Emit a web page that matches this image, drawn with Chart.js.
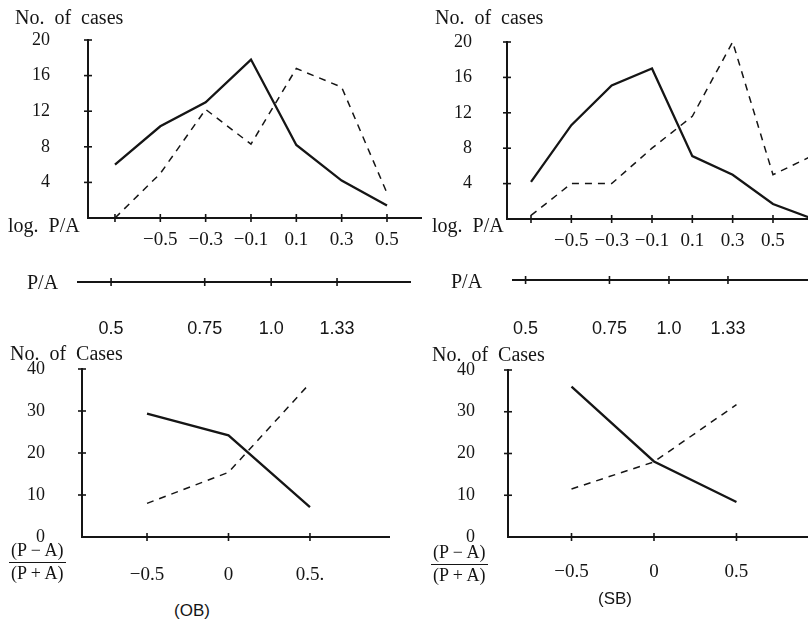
<!DOCTYPE html>
<html>
<head>
<meta charset="utf-8">
<script src="https://cdn.jsdelivr.net/npm/chart.js@4.4.1/dist/chart.umd.min.js"></script>
<style>
  html, body { margin: 0; padding: 0; width: 808px; height: 626px; overflow: hidden; background: #fff; }
  canvas { position: absolute; }
  .t { position: absolute; font-family: 'Liberation Serif', 'Times New Roman', serif; font-size: 20px;
       line-height: 20px; color: #151515; white-space: nowrap; }
  .cap { word-spacing: 5px; }
  .frac { position: absolute; font-family: 'Liberation Serif', serif; font-size: 18px; color: #151515;
          text-align: center; line-height: 17px; }
  .frac .num { border-bottom: 1.6px solid #151515; padding: 0 2px 3px 2px; }
  .frac .den { padding-top: 2px; }
  .grp { position: absolute; font-family: 'Liberation Sans', Arial, sans-serif; font-size: 17px;
         color: #151515; line-height: 20px; }
</style>
</head>
<body>
<canvas id="obLog" width="430" height="230" style="left:0;top:25px"></canvas>
<canvas id="sbLog" width="410" height="230" style="left:420px;top:27px"></canvas>
<canvas id="obPA" width="420" height="80" style="left:0;top:262px"></canvas>
<canvas id="sbPA" width="415" height="80" style="left:420px;top:260px"></canvas>
<canvas id="obRatio" width="400" height="240" style="left:0;top:352px"></canvas>
<canvas id="sbRatio" width="415" height="240" style="left:420px;top:353px"></canvas>

<div class="t cap" style="left:15px;top:7px">No. of cases</div>
<div class="t cap" style="left:435px;top:7px">No. of cases</div>
<div class="t cap" style="left:8px;top:215px">log. P/A</div>
<div class="t cap" style="left:432px;top:215px">log. P/A</div>
<div class="t" style="left:27px;top:272px">P/A</div>
<div class="t" style="left:451px;top:271px">P/A</div>
<div class="t cap" style="left:10px;top:343px">No. of Cases</div>
<div class="t cap" style="left:432px;top:344px">No. of Cases</div>
<div class="frac" style="left:9px;top:542px"><div class="num">(P − A)</div><div class="den">(P + A)</div></div>
<div class="frac" style="left:431px;top:544px"><div class="num">(P − A)</div><div class="den">(P + A)</div></div>
<div class="grp" style="left:174px;top:601px">(OB)</div>
<div class="grp" style="left:598px;top:589px">(SB)</div>

<script>
// log P/A panels (number of cases)
const logPA = [-0.7, -0.5, -0.3, -0.1, 0.1, 0.3, 0.5];
const obSolid = [6, 10.3, 13, 17.8, 8.2, 4.2, 1.4];
const obDashed = [0, 5, 12.2, 8.3, 16.8, 14.7, 2.8];
const logPAsb = [-0.7, -0.5, -0.3, -0.1, 0.1, 0.3, 0.5, 0.7];
const sbSolid = [4.2, 10.6, 15.1, 17, 7.1, 5, 1.7, 0];
const sbDashed = [0.4, 4, 4, 8, 11.6, 20, 5, 7.2];
const logTicksOB = [-0.7, -0.5, -0.3, -0.1, 0.1, 0.3, 0.5];
const logLabelsOB = ['', '−0.5', '−0.3', '−0.1', '0.1', '0.3', '0.5'];
const logTicksSB = [-0.7, -0.5, -0.3, -0.1, 0.1, 0.3, 0.5, 0.7];
const logLabelsSB = ['', '−0.5', '−0.3', '−0.1', '0.1', '0.3', '0.5', ''];

// P/A reference axis
const paTicks = [0.5, 0.75, 1, 1.33];
const paLabels = ['0.5', '0.75', '1.0', '1.33'];

// (P-A)/(P+A) panels
const ratio = [-0.5, 0, 0.5];
const obSolidR = [29.4, 24.2, 7.1];
const obDashedR = [8, 15.4, 36.6];
const sbSolidR = [36, 18.1, 8.4];
const sbDashedR = [11.5, 18, 31.7];
const ratioTicks = [-0.5, 0, 0.5];
const ratioLabelsOB = ['−0.5', '0', '0.5.'];
const ratioLabelsSB = ['−0.5', '0', '0.5'];

const ink = '#151515';
const serif = "'Liberation Serif', 'Times New Roman', serif";
const sans = "'Liberation Sans', Arial, sans-serif";

// small tick marks that cross the axis line
const crossTicks = {
  id: 'crossTicks',
  afterDraw(chart, args, opts) {
    const ctx = chart.ctx;
    const len = 4;
    ctx.save();
    ctx.strokeStyle = ink;
    ctx.lineWidth = 1.6;
    (opts.axes || []).forEach((id) => {
      const s = chart.scales[id];
      s.ticks.forEach((t) => {
        if (!s.isHorizontal() && t.value === 0) return;
        const p = s.getPixelForValue(t.value);
        ctx.beginPath();
        if (s.isHorizontal()) {
          ctx.moveTo(p, s.top - len);
          ctx.lineTo(p, s.top + len);
        } else {
          ctx.moveTo(s.right - len, p);
          ctx.lineTo(s.right + len, p);
        }
        ctx.stroke();
      });
    });
    ctx.restore();
  },
};
Chart.register(crossTicks);

// gap between axis and labels is made with an invisible tick, so the
// label padding does not push the chart area down
const hiddenGrid = (gap) => ({
  display: true,
  drawOnChartArea: false,
  drawTicks: true,
  tickLength: gap,
  color: 'rgba(0,0,0,0)',
});

const casesAxis = (max, step, width, gap, showZero) => ({
  type: 'linear',
  min: 0,
  max: max,
  border: { color: ink, width: 2 },
  grid: hiddenGrid(gap),
  ticks: {
    stepSize: step,
    padding: 0,
    color: ink,
    font: { family: serif, size: 18 },
    callback: (v) => (v === 0 && !showZero ? '' : v),
  },
  afterFit: (s) => { s.width = width; },
});

const valueAxis = (type, min, max, vals, labels, height, gap, font) => ({
  type: type,
  min: min,
  max: max,
  border: { color: ink, width: 2 },
  grid: hiddenGrid(gap),
  ticks: {
    padding: 0,
    color: ink,
    font: font,
    autoSkip: false,
    maxRotation: 0,
    callback: (v, i) => labels[i],
  },
  afterBuildTicks: (s) => { s.ticks = vals.map((v) => ({ value: v })); },
  afterFit: (s) => { s.height = height; },
});

const lines = (xs, solid, dashed) => [
  {
    data: xs.map((x, i) => ({ x: x, y: solid[i] })),
    borderColor: ink, borderWidth: 2.3, pointRadius: 0, tension: 0, fill: false,
  },
  {
    data: xs.map((x, i) => ({ x: x, y: dashed[i] })),
    borderColor: ink, borderWidth: 1.5, borderDash: [7, 6], pointRadius: 0, tension: 0, fill: false,
  },
];

const baseOptions = (padding, axes) => ({
  responsive: false,
  animation: false,
  events: [],
  layout: { padding: padding },
  plugins: { legend: { display: false }, tooltip: { enabled: false }, crossTicks: { axes: axes } },
});

const makeChart = (id, datasets, padding, scales, axes) => {
  const canvas = document.getElementById(id);
  return new Chart(canvas.getContext('2d'), {
    type: 'line',
    data: { datasets: datasets },
    options: Object.assign(baseOptions(padding, axes), { scales: scales }),
  });
};

const logFont = { family: serif, size: 19 };
const paFont = { family: sans, size: 18 };
const ratioFont = { family: serif, size: 19 };

// top row: log P/A
makeChart('obLog', lines(logPA, obSolid, obDashed),
  { top: 15, right: 9, left: 0, bottom: 0 },
  {
    x: valueAxis('linear', -0.819, 0.65, logTicksOB, logLabelsOB, 37, 11, logFont),
    y: casesAxis(20, 4, 88, 38, false),
  }, ['x', 'y']);

makeChart('sbLog', lines(logPAsb, sbSolid, sbDashed),
  { top: 15, right: 7, left: 0, bottom: 0 },
  {
    x: valueAxis('linear', -0.819, 0.748, logTicksSB, logLabelsSB, 38, 11, logFont),
    y: casesAxis(20, 4, 87, 35, false),
  }, ['x', 'y']);

// middle row: P/A scale
makeChart('obPA', [],
  { top: 10, right: 10, left: 78, bottom: 0 },
  {
    x: valueAxis('logarithmic', 0.4333, 1.824, paTicks, paLabels, 60, 36, paFont),
    y: { display: false },
  }, ['x']);

makeChart('sbPA', [],
  { top: 10, right: 5, left: 93, bottom: 0 },
  {
    x: valueAxis('logarithmic', 0.4705, 2.178, paTicks, paLabels, 60, 38, paFont),
    y: { display: false },
  }, ['x']);

// bottom row: (P-A)/(P+A)
makeChart('obRatio', lines(ratio, obSolidR, obDashedR),
  { top: 17, right: 11, left: 0, bottom: 0 },
  {
    x: valueAxis('linear', -0.899, 0.985, ratioTicks, ratioLabelsOB, 55, 27, ratioFont),
    y: casesAxis(40, 10, 82, 37, true),
  }, ['x', 'y']);

makeChart('sbRatio', lines(ratio, sbSolidR, sbDashedR),
  { top: 17, right: 5, left: 0, bottom: 0 },
  {
    x: valueAxis('linear', -0.885, 1.067, ratioTicks, ratioLabelsSB, 56, 24, ratioFont),
    y: casesAxis(40, 10, 88, 33, true),
  }, ['x', 'y']);
</script>
</body>
</html>
